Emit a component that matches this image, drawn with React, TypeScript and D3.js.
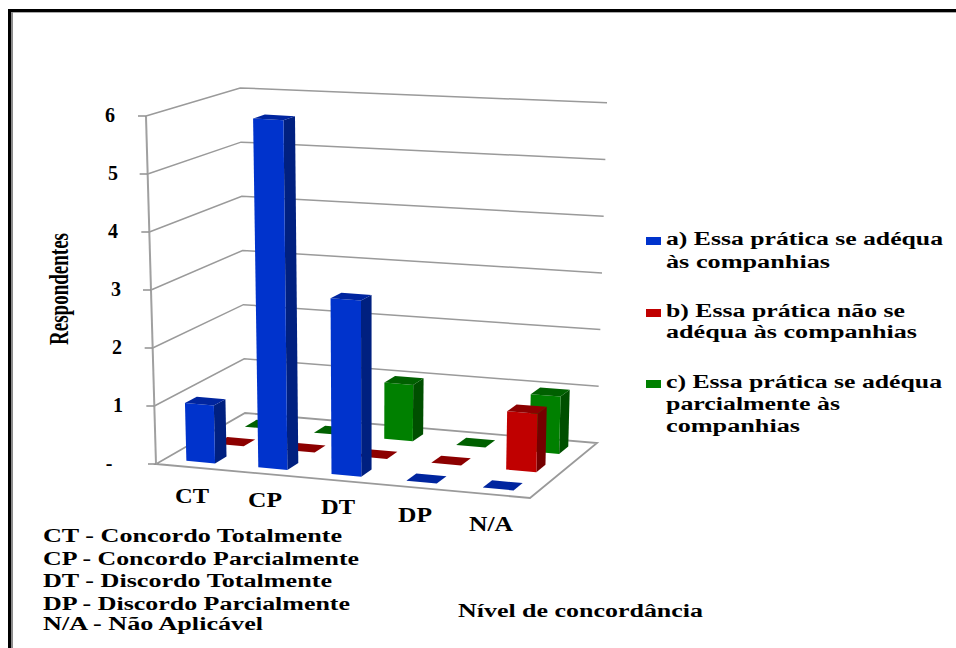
import React from "react";
import * as d3 from "d3";

const categories = ["CT", "CP", "DT", "DP", "N/A"];
const seriesA = [1, 6, 3, 0, 0];
const seriesB = [0, 0, 0, 0, 1];
const seriesC = [0, 0, 1, 0, 1];
const yTicks = [1, 2, 3, 4, 5, 6];

const legendSwatches = ["#0033cc", "#c00000", "#008000"];
const legendLines: [string, number, number][][] = [
  [["a) Essa prática se adéqua", 245, 277], ["às companhias", 268, 164]],
  [["b) Essa prática não se", 317, 239], ["adéqua às companhias", 338, 251]],
  [["c) Essa prática se adéqua", 388, 276], ["parcialmente às", 410, 174], ["companhias", 432, 134]],
];
const noteLines: [string, number, number][] = [
  ["CT - Concordo Totalmente", 542, 299],
  ["CP - Concordo Parcialmente", 565, 316],
  ["DT - Discordo Totalmente", 587, 289],
  ["DP - Discordo Parcialmente", 610, 307],
  ["N/A - Não Aplicável", 630, 220],
];
const catLabelPos: [number, number][] = [[192, 503], [265, 507], [338, 514], [415, 522], [491, 531]];
const tickLabelX = [118, 117, 116, 113, 113, 110];

// Projection: floor corners (front-left, front-right, back-right, back-left)
const FL = { x: 156, y: 464, sy: 58, lean: -1.67 };
const FR = { x: 530, y: 498, sy: 60, lean: 1.2 };
const BR = { x: 597, y: 443, sy: 56.7, lean: 1.67 };
const BL = { x: 245, y: 413, sy: 54.17, lean: -0.8 };

function bil(k: "x" | "y" | "sy" | "lean", u: number, v: number) {
  return (1 - u) * (1 - v) * FL[k] + u * (1 - v) * FR[k] + u * v * BR[k] + (1 - u) * v * BL[k];
}
function proj(u0: number, v: number, h: number): [number, number] {
  const u = u0 - 0.012 * Math.sin(Math.PI * u0);
  return [bil("x", u, v) + bil("lean", u, v) * h, bil("y", u, v) - bil("sy", u, v) * h];
}

const uBand = d3.scaleBand<string>().domain(categories).range([0, 1]).paddingInner(0.6).paddingOuter(0.3);
const seriesKeys = ["a", "b", "c"];
const vBand = d3.scaleBand<string>().domain(seriesKeys).range([0, 1]).paddingInner(0.6).paddingOuter(0.3);

const line = d3.line<[number, number]>();
const closed = (pts: [number, number][]) => (line(pts) as string) + "Z";

const palettes: Record<string, { front: string; side: string; top: string }> = {
  a: { front: "#0033cc", side: "#002080", top: "#00259f" },
  b: { front: "#c00000", side: "#750000", top: "#8c0000" },
  c: { front: "#008000", side: "#004f00", top: "#006000" },
};
const seriesData: Record<string, number[]> = { a: seriesA, b: seriesB, c: seriesC };

const FONT = "'Liberation Serif', serif";
const GRID = "#9a9a9a";

function Bar({ cat, sk, value }: { cat: string; sk: string; value: number }) {
  const u0 = uBand(cat)!;
  const u1 = u0 + uBand.bandwidth();
  const v0 = vBand(sk)!;
  const v1 = v0 + vBand.bandwidth();
  const p = palettes[sk];
  const top = closed([proj(u0, v0, value), proj(u1, v0, value), proj(u1, v1, value), proj(u0, v1, value)]);
  if (value === 0) return <path d={top} fill={p.top} />;
  return (
    <g>
      <path d={closed([proj(u1, v0, 0), proj(u1, v1, 0), proj(u1, v1, value), proj(u1, v0, value)])} fill={p.side} />
      <path d={closed([proj(u0, v0, 0), proj(u1, v0, 0), proj(u1, v0, value), proj(u0, v0, value)])} fill={p.front} />
      <path d={top} fill={p.top} />
    </g>
  );
}

function T({ x, y, w, size = 17, children, anchor }: any) {
  return (
    <text x={x} y={y} fontFamily={FONT} fontWeight="bold" fontSize={size} fill="#000" textAnchor={anchor}
      textLength={w} lengthAdjust={w ? "spacingAndGlyphs" : undefined}>
      {children}
    </text>
  );
}

export default function App() {
  return (
    <svg width={956} height={648} viewBox="0 0 956 648" style={{ position: "fixed", left: 0, top: 0, background: "#fff" }}>
      {/* frame */}
      <rect x={8} y={9} width={948} height={3} fill="#000" />
      <rect x={11} y={12} width={945} height={1} fill="#aaa" />
      <rect x={8} y={9} width={3} height={639} fill="#000" />
      <rect x={11} y={12} width={2} height={636} fill="#8c8c8c" />

      {/* walls */}
      {yTicks.map((h) => (
        <path key={h} d={line([proj(0, 0, h), proj(0, 1, h), proj(1, 1, h)]) as string} fill="none" stroke={GRID} strokeWidth={1.5} />
      ))}
      {/* floor */}
      <path d={closed([proj(0, 0, 0), proj(1, 0, 0), proj(1, 1, 0), proj(0, 1, 0)])} fill="#fff" stroke={GRID} strokeWidth={1.8} />
      {/* vertical axis */}
      <path d={line([proj(0, 0, 0), proj(0, 0, 6)]) as string} fill="none" stroke="#a0a0a0" strokeWidth={2} />
      {[0, ...yTicks].map((h) => {
        const [x, y] = proj(0, 0, h);
        return <path key={h} d={line([[x - 8, y], [x, y]]) as string} stroke="#909090" strokeWidth={1.5} />;
      })}

      {/* bars: back row to front row */}
      {[...seriesKeys].reverse().map((sk) =>
        categories.map((c, i) => <Bar key={sk + c} cat={c} sk={sk} value={seriesData[sk][i]} />)
      )}

      {/* y tick labels */}
      {yTicks.map((h, i) => (
        <T key={h} x={tickLabelX[i]} y={proj(0, 0, h)[1] + 6} anchor="middle" size={20}>{h}</T>
      ))}
      <T x={109} y={470} anchor="middle" size={20}>-</T>

      {/* category labels */}
      {categories.map((c, i) => (
        <T key={c} x={catLabelPos[i][0]} y={catLabelPos[i][1]} w={c === "N/A" ? 44 : 34} anchor="middle" size={20}>{c}</T>
      ))}

      {/* axis titles */}
      <g transform="translate(68,345) rotate(-90)">
        <T x={0} y={0} w={112} size={27}>Respondentes</T>
      </g>
      <T x={458} y={617} w={245} size={18}>Nível de concordância</T>

      {/* legend */}
      {legendLines.map((lines, i) => (
        <g key={i}>
          <rect x={646} y={lines[0][1] - 8} width={15} height={8} fill={legendSwatches[i]} />
          {lines.map(([s, y, w]) => (
            <T key={s} x={666} y={y} w={w} size={18}>{s}</T>
          ))}
        </g>
      ))}

      {/* notes */}
      {noteLines.map(([s, y, w]) => (
        <T key={s} x={43} y={y} w={w} size={18}>{s}</T>
      ))}
    </svg>
  );
}
